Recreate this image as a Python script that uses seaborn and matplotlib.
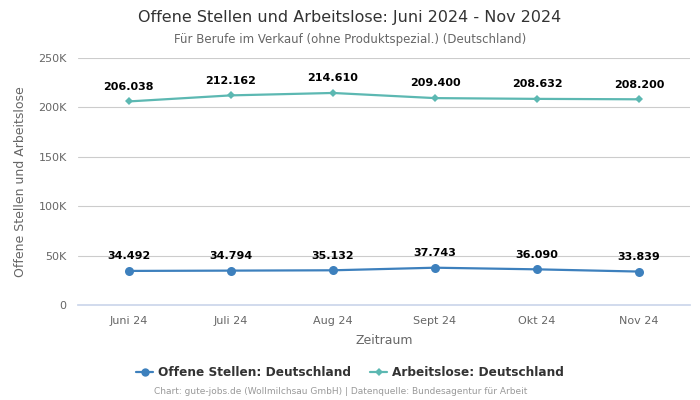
import matplotlib
matplotlib.use("Agg")
import matplotlib.pyplot as plt
import seaborn as sns
import pandas as pd
from matplotlib.ticker import FuncFormatter
from matplotlib.lines import Line2D

months = ["Juni 24", "Juli 24", "Aug 24", "Sept 24", "Okt 24", "Nov 24"]
offene = [34492, 34794, 35132, 37743, 36090, 33839]
arbeitslose = [206038, 212162, 214610, 209400, 208632, 208200]
series_names = ["Offene Stellen: Deutschland", "Arbeitslose: Deutschland"]

sns.set_theme(style="white")
plt.rcParams["font.family"] = ["DejaVu Sans"]

df = pd.DataFrame({
    "Zeitraum": months * 2,
    "Wert": offene + arbeitslose,
    "Serie": [series_names[0]] * len(months) + [series_names[1]] * len(months),
})
df["x"] = list(range(len(months))) * 2

fig = plt.figure(figsize=(7, 4), dpi=100)
ax = fig.add_axes([0.111, 0.2375, 0.875, 0.6175])

colors = {series_names[0]: "#3d80bd", series_names[1]: "#5cb8b2"}
sns.lineplot(data=df, x="x", y="Wert", hue="Serie", palette=colors, style="Serie",
             markers={series_names[0]: "o", series_names[1]: "D"},
             dashes=False, linewidth=1.6, ax=ax, legend=False,
             markeredgewidth=0)
for line, ms in zip(ax.lines, [6.5, 4.5]):
    line.set_markersize(ms)

def fmt_de(v):
    return f"{v:,}".replace(",", ".")

for i, v in enumerate(offene):
    ax.annotate(fmt_de(v), (i, v), xytext=(0, 7), textcoords="offset points",
                ha="center", va="bottom", fontsize=8, fontweight="bold", color="black")
for i, v in enumerate(arbeitslose):
    ax.annotate(fmt_de(v), (i, v), xytext=(0, 7), textcoords="offset points",
                ha="center", va="bottom", fontsize=8, fontweight="bold", color="black")

ax.set_xlim(-0.5, len(months) - 0.5)
ax.set_ylim(0, 250000)
ax.set_yticks([0, 50000, 100000, 150000, 200000, 250000])
ax.yaxis.set_major_formatter(FuncFormatter(lambda v, p: "0" if v == 0 else f"{int(v/1000)}K"))
ax.set_xticks(range(len(months)))
ax.set_xticklabels(months)
ax.tick_params(axis="both", length=0, labelsize=8, colors="#666666", pad=8)
ax.grid(axis="y", color="#cccccc", linewidth=0.8)
for s in ["top", "right", "left"]:
    ax.spines[s].set_visible(False)
ax.spines["bottom"].set_color("#ccd6eb")
ax.set_axisbelow(True)
ax.set_xlabel("Zeitraum", fontsize=9, color="#666666", labelpad=6)
ax.set_ylabel("Offene Stellen und Arbeitslose", fontsize=9, color="#666666", labelpad=8)

fig.text(0.5, 0.956, "Offene Stellen und Arbeitslose: Juni 2024 - Nov 2024",
         ha="center", va="center", fontsize=11.5, color="#333333")
fig.text(0.5, 0.902, "Für Berufe im Verkauf (ohne Produktspezial.) (Deutschland)",
         ha="center", va="center", fontsize=8.5, color="#666666")

handles = [Line2D([], [], color=colors[series_names[0]], marker="o", markersize=6, linewidth=1.6, markeredgewidth=0),
           Line2D([], [], color=colors[series_names[1]], marker="D", markersize=4, linewidth=1.6, markeredgewidth=0)]
leg = fig.legend(handles, series_names, loc="center", bbox_to_anchor=(0.5, 0.068), ncol=2,
                 frameon=False, handlelength=1.4, handletextpad=0.4, columnspacing=1.6,
                 prop={"size": 8.7, "weight": "bold"})
for t in leg.get_texts():
    t.set_color("#333333")

fig.text(0.486, 0.02, "Chart: gute-jobs.de (Wollmilchsau GmbH) | Datenquelle: Bundesagentur für Arbeit",
         ha="center", va="center", fontsize=6.5, color="#999999")

fig.savefig("out.png", dpi=100)
